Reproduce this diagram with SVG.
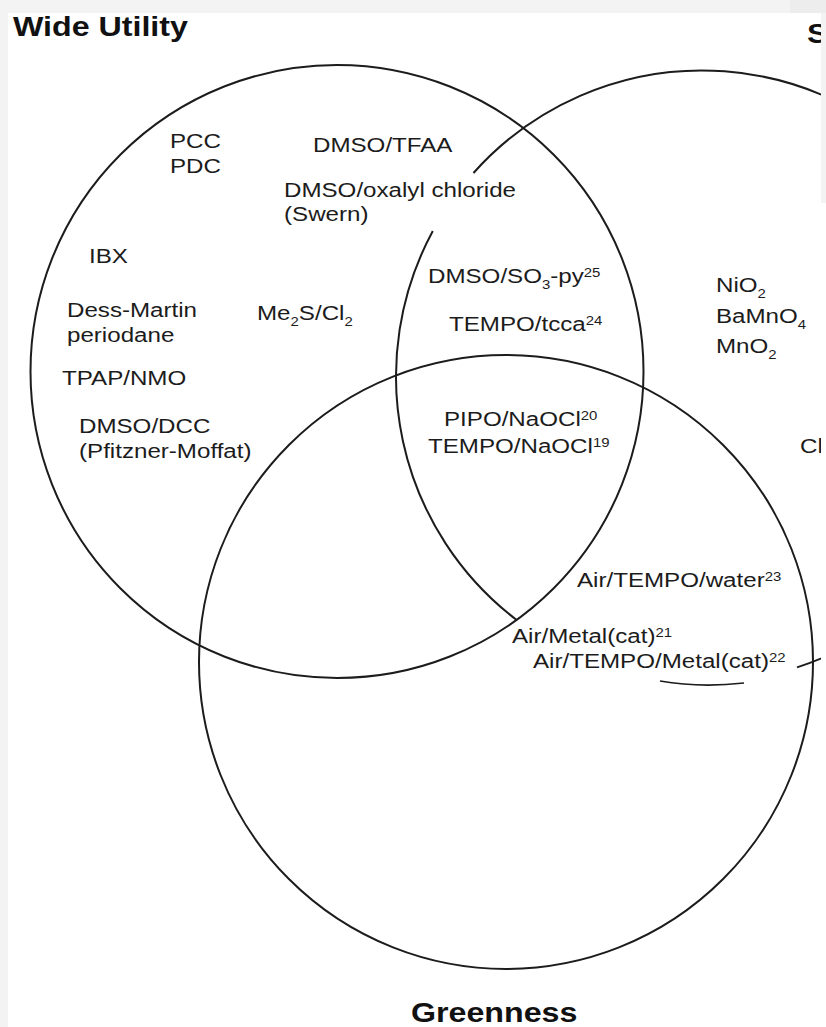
<svg xmlns="http://www.w3.org/2000/svg" width="826" height="1027" viewBox="0 0 826 1027">
  <style>
    .ring { fill: none; stroke: #1c1c1c; stroke-width: 2; }
    .t { font-family: "Liberation Sans", Arial, Helvetica, sans-serif; font-size: 21px; fill: #1c1c1c; }
    .h { font-family: "Liberation Sans", Arial, Helvetica, sans-serif; font-size: 28px; font-weight: bold; fill: #111; }
    .sup { font-size: 13px; }
    .sub { font-size: 13px; }
    .mark { fill: none; stroke: #1c1c1c; stroke-width: 1.6; }
  </style>
  <defs>
    <clipPath id="page">
      <rect x="8" y="13" width="813" height="1014"/>
    </clipPath>
  </defs>
  <rect x="0" y="0" width="826" height="1027" fill="#ffffff"/>
  <rect x="0" y="0" width="826" height="13" fill="#f3f3f3"/>
  <rect x="790" y="0" width="36" height="13" fill="#ededed"/>
  <rect x="0" y="13" width="8" height="1014" fill="#f3f3f3"/>
  <rect x="821" y="13" width="5" height="190" fill="#f3f3f3"/>

  <g clip-path="url(#page)">
    <g id="set-wide-utility">
      <circle class="ring" cx="337" cy="371.5" r="306.5"/>
      <text class="h" transform="matrix(1.15 0 0 1 13 36)">Wide Utility</text>
    </g>
    <g id="set-selectivity">
      <path class="ring" d="M432.8 231 A306 306 0 0 0 517 620.2"/>
      <path class="ring" d="M797 667.4 A306 306 0 1 0 473.5 173"/>
      <text class="h" transform="matrix(1.15 0 0 1 807 43)">S</text>
    </g>
    <g id="set-greenness">
      <circle class="ring" cx="506" cy="662" r="307"/>
      <text class="h" transform="matrix(1.15 0 0 1 411 1022)">Greenness</text>
    </g>

    <g id="wide-utility-only">
      <text class="t" transform="matrix(1.15 0 0 1 170 148)">PCC</text>
      <text class="t" transform="matrix(1.15 0 0 1 170 173)">PDC</text>
      <text class="t" transform="matrix(1.15 0 0 1 313 152)">DMSO/TFAA</text>
      <text class="t" transform="matrix(1.15 0 0 1 284 197)">DMSO/oxalyl chloride</text>
      <text class="t" transform="matrix(1.15 0 0 1 284 221)">(Swern)</text>
      <text class="t" transform="matrix(1.15 0 0 1 89 263)">IBX</text>
      <text class="t" transform="matrix(1.15 0 0 1 67 317)">Dess-Martin</text>
      <text class="t" transform="matrix(1.15 0 0 1 67 342)">periodane</text>
      <text class="t" transform="matrix(1.15 0 0 1 62 385)">TPAP/NMO</text>
      <text class="t" transform="matrix(1.15 0 0 1 79 433)">DMSO/DCC</text>
      <text class="t" transform="matrix(1.15 0 0 1 79 458)">(Pfitzner-Moffat)</text>
      <text class="t" transform="matrix(1.15 0 0 1 257 320)">Me<tspan class="sub" dy="6">2</tspan><tspan dy="-6">S/Cl</tspan><tspan class="sub" dy="6">2</tspan></text>
    </g>

    <g id="utility-selectivity">
      <text class="t" transform="matrix(1.15 0 0 1 428 283)">DMSO/SO<tspan class="sub" dy="6">3</tspan><tspan dy="-6">-py</tspan><tspan class="sup" dy="-6">25</tspan></text>
      <text class="t" transform="matrix(1.15 0 0 1 449 331)">TEMPO/tcca<tspan class="sup" dy="-6">24</tspan></text>
    </g>

    <g id="all-three">
      <text class="t" transform="matrix(1.15 0 0 1 444 426)">PIPO/NaOCl<tspan class="sup" dy="-6">20</tspan></text>
      <text class="t" transform="matrix(1.15 0 0 1 428 453)">TEMPO/NaOCl<tspan class="sup" dy="-6">19</tspan></text>
    </g>

    <g id="selectivity-only">
      <text class="t" transform="matrix(1.15 0 0 1 716 292)">NiO<tspan class="sub" dy="6">2</tspan></text>
      <text class="t" transform="matrix(1.15 0 0 1 716 323)">BaMnO<tspan class="sub" dy="6">4</tspan></text>
      <text class="t" transform="matrix(1.15 0 0 1 716 353)">MnO<tspan class="sub" dy="6">2</tspan></text>
      <text class="t" transform="matrix(1.15 0 0 1 800 453)">Cl</text>
    </g>

    <g id="greenness-selectivity">
      <text class="t" transform="matrix(1.15 0 0 1 577 587)">Air/TEMPO/water<tspan class="sup" dy="-6">23</tspan></text>
      <text class="t" transform="matrix(1.15 0 0 1 512 643)">Air/Metal(cat)<tspan class="sup" dy="-6">21</tspan></text>
      <text class="t" transform="matrix(1.15 0 0 1 533 668)">Air/TEMPO/Metal(cat)<tspan class="sup" dy="-6">22</tspan></text>
      <path class="mark" d="M660 681 Q700 688 744 683"/>
    </g>
  </g>
</svg>
